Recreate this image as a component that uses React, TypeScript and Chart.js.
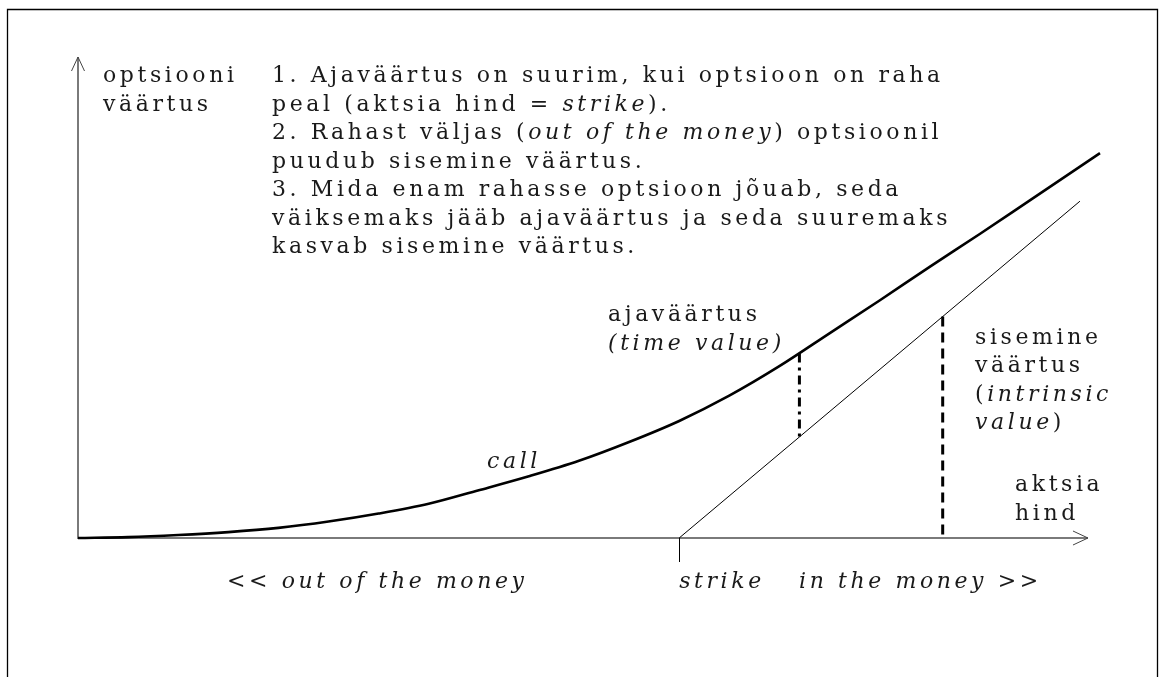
import React, { useEffect, useRef } from "react";
import { Chart, registerables } from "chart.js";

Chart.register(...registerables);

// Stock price axis (strike = 60) and option value axis
const priceMin = 0;
const priceMax = 102;
const valueMin = 0;
const valueMax = 57;
const strike = 60;

// Call option value against stock price
const callPrice = [0, 5, 10, 15, 20, 25, 30, 35, 40, 45, 50, 55, 60, 65, 70, 75, 80, 85, 90, 95, 100, 102];
const callValue = [0, 0.1, 0.35, 0.7, 1.2, 1.95, 2.9, 4.06, 5.67, 7.33, 9.17, 11.4, 13.9, 16.9, 20.4, 24.3, 28.2, 32.2, 36.1, 40.1, 44.1, 45.7];

// Intrinsic value line, from the strike upwards
const intrinsicPrice = [60, 100];
const intrinsicValue = [0, 40];

// Time value marker (between call curve and intrinsic line)
const timeMarkPrice = [72, 72];
const timeMarkValue = [21.9, 12];

// Intrinsic value marker (between intrinsic line and price axis)
const intrinsicMarkPrice = [86.3, 86.3];
const intrinsicMarkValue = [26.3, 0];

// Explanatory text lines: [text, italic]
const noteLines: [string, boolean][][] = [
  [["1. Ajaväärtus on suurim, kui optsioon on raha", false]],
  [["peal (aktsia hind = ", false], ["strike", true], [").", false]],
  [["2. Rahast väljas (", false], ["out of the money", true], [") optsioonil", false]],
  [["puudub sisemine väärtus.", false]],
  [["3. Mida enam rahasse optsioon jõuab, seda", false]],
  [["väiksemaks jääb ajaväärtus ja seda suuremaks", false]],
  [["kasvab sisemine väärtus.", false]],
];

const FONT = '"DejaVu Serif", serif';
const SIZE = 22;
const SPACING = 3.6;
const INK = "#1a1a1a";

function drawRuns(ctx: CanvasRenderingContext2D, x: number, y: number, runs: [string, boolean][]) {
  let cx = x;
  for (const [text, italic] of runs) {
    ctx.font = `${italic ? "italic " : ""}${SIZE}px ${FONT}`;
    for (const ch of Array.from(text)) {
      ctx.fillText(ch, cx, y);
      cx += ctx.measureText(ch).width + SPACING;
    }
  }
}

const framePlugin = {
  id: "frameAndAxes",
  beforeDatasetsDraw(chart: any) {
    const ctx: CanvasRenderingContext2D = chart.ctx;
    const xs = chart.scales.x;
    const ys = chart.scales.y;
    const x0 = xs.getPixelForValue(priceMin);
    const y0 = ys.getPixelForValue(valueMin);
    const xEnd = xs.getPixelForValue(100.8);
    const yTop = ys.getPixelForValue(valueMax) - 1;
    ctx.save();
    // outer frame
    ctx.strokeStyle = "#000";
    ctx.lineWidth = 1.3;
    ctx.beginPath();
    ctx.moveTo(7.5, 677);
    ctx.lineTo(7.5, 9.5);
    ctx.lineTo(1157.5, 9.5);
    ctx.lineTo(1157.5, 677);
    ctx.stroke();
    // axes
    ctx.strokeStyle = "#7a7a7a";
    ctx.lineWidth = 2;
    ctx.beginPath();
    ctx.moveTo(x0, yTop);
    ctx.lineTo(x0, y0);
    ctx.lineTo(xEnd, y0);
    ctx.stroke();
    // arrow heads
    ctx.strokeStyle = "#444";
    ctx.lineWidth = 1;
    ctx.beginPath();
    ctx.moveTo(x0 - 6.5, yTop + 14);
    ctx.lineTo(x0, yTop);
    ctx.lineTo(x0 + 6.5, yTop + 14);
    ctx.moveTo(xEnd - 15, y0 - 7);
    ctx.lineTo(xEnd, y0);
    ctx.lineTo(xEnd - 15, y0 + 7);
    ctx.stroke();
    // strike tick
    const xs0 = Math.round(xs.getPixelForValue(strike)) + 0.5;
    ctx.strokeStyle = "#000";
    ctx.beginPath();
    ctx.moveTo(xs0, y0);
    ctx.lineTo(xs0, y0 + 24);
    ctx.stroke();
    ctx.restore();
  },
  afterDraw(chart: any) {
    const ctx: CanvasRenderingContext2D = chart.ctx;
    const xs = chart.scales.x;
    ctx.save();
    ctx.fillStyle = INK;
    ctx.textBaseline = "alphabetic";
    ctx.textAlign = "left";
    drawRuns(ctx, 103, 82, [["optsiooni", false]]);
    drawRuns(ctx, 103, 111, [["väärtus", false]]);
    noteLines.forEach((runs, i) => drawRuns(ctx, 272, 82 + i * 28.5, runs));
    drawRuns(ctx, 608, 321, [["ajaväärtus", false]]);
    drawRuns(ctx, 608, 350, [["(time value)", true]]);
    drawRuns(ctx, 487, 468, [["call", true]]);
    drawRuns(ctx, 975, 344, [["sisemine", false]]);
    drawRuns(ctx, 975, 372, [["väärtus", false]]);
    drawRuns(ctx, 975, 401, [["(", false], ["intrinsic", true]]);
    drawRuns(ctx, 975, 429, [["value", true], [")", false]]);
    drawRuns(ctx, 1015, 491, [["aktsia", false]]);
    drawRuns(ctx, 1015, 520, [["hind", false]]);
    drawRuns(ctx, 227, 588, [["<< out of the money", true]]);
    drawRuns(ctx, xs.getPixelForValue(strike), 588, [["strike", true]]);
    drawRuns(ctx, 799, 588, [["in the money >>", true]]);
    ctx.restore();
  },
};

export default function App() {
  const canvasRef = useRef<HTMLCanvasElement | null>(null);

  useEffect(() => {
    const canvas = canvasRef.current;
    if (!canvas) return;
    const pts = (xs: number[], ys: number[]) => xs.map((x, i) => ({ x, y: ys[i] }));
    const chart = new Chart(canvas, {
      type: "line",
      data: {
        datasets: [
          {
            data: pts(callPrice, callValue),
            borderColor: "#000",
            borderWidth: 2.6,
            pointRadius: 0,
            cubicInterpolationMode: "monotone",
            clip: false,
          },
          {
            data: pts(intrinsicPrice, intrinsicValue),
            borderColor: "#000",
            borderWidth: 1,
            pointRadius: 0,
            clip: false,
          },
          {
            data: pts(timeMarkPrice, timeMarkValue),
            borderColor: "#000",
            borderWidth: 3,
            borderDash: [9, 5, 3, 5],
            pointRadius: 0,
            clip: false,
          },
          {
            data: pts(intrinsicMarkPrice, intrinsicMarkValue),
            borderColor: "#000",
            borderWidth: 3,
            borderDash: [10, 6],
            pointRadius: 0,
            clip: false,
          },
        ],
      } as any,
      options: {
        animation: false,
        responsive: false,
        events: [],
        layout: { padding: { left: 78, right: 60, top: 58, bottom: 139 } },
        plugins: { legend: { display: false }, tooltip: { enabled: false } },
        scales: {
          x: { type: "linear", min: priceMin, max: priceMax, display: false },
          y: { type: "linear", min: valueMin, max: valueMax, display: false },
        },
      } as any,
      plugins: [framePlugin],
    });
    return () => chart.destroy();
  }, []);

  return (
    <div style={{ position: "fixed", left: 0, top: 0, width: 1160, height: 677, background: "#fff" }}>
      <canvas ref={canvasRef} width={1160} height={677} style={{ width: 1160, height: 677, display: "block" }} />
    </div>
  );
}
